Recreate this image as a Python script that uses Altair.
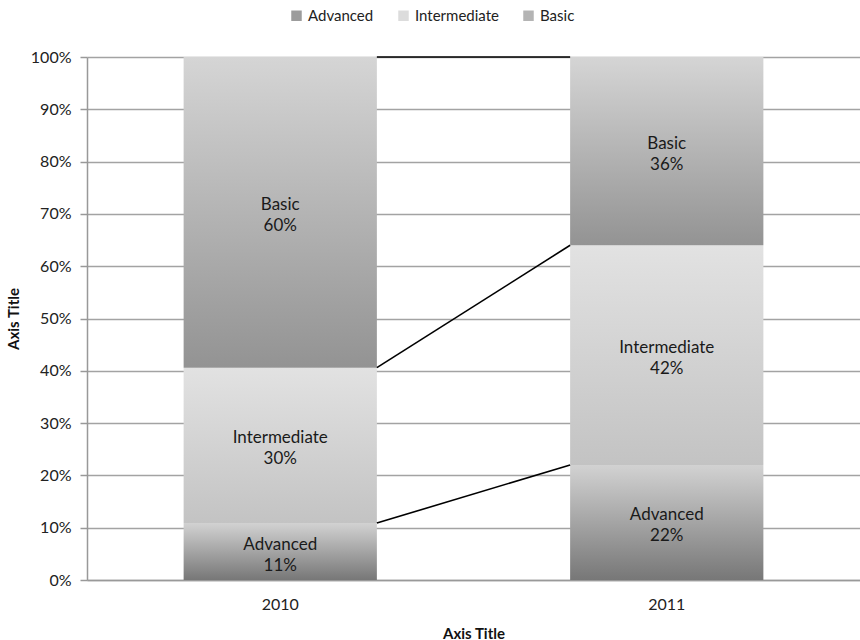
import altair as alt
import pandas as pd

years = ["2010", "2011"]
series = ["Advanced", "Intermediate", "Basic"]
advanced = [11, 22]
intermediate = [30, 42]
basic = [60, 36]

# vertical gradients per segment (top colour, bottom colour)
gradients = {
    "Advanced": ("#d2d2d2", "#777777"),
    "Intermediate": ("#e2e2e2", "#c3c3c3"),
    "Basic": ("#d5d5d5", "#939393"),
}
legend_colors = ["#9c9c9c", "#dcdcdc", "#b4b4b4"]

values = {"Advanced": advanced, "Intermediate": intermediate, "Basic": basic}

# 100% stacked segments
rows = []
for i, yr in enumerate(years):
    total = sum(values[s][i] for s in series)
    cum = 0.0
    for k, s in enumerate(series):
        v = values[s][i]
        rows.append({
            "year": yr, "series": s, "order": k, "value": v,
            "start": cum / total, "end": (cum + v) / total,
            "label": f"{s}\n{v}%",
        })
        cum += v
bars = pd.DataFrame(rows)

# series lines joining the top of each segment across the two years
links = []
for s in series:
    a = bars[(bars.year == years[0]) & (bars.series == s)].iloc[0]
    b = bars[(bars.year == years[1]) & (bars.series == s)].iloc[0]
    links.append({"from": years[0], "to": years[1], "y_from": a.end, "y_to": b.end})
links = pd.DataFrame(links)

FONT = "Lato"

x_scale = alt.Scale(domain=years, paddingInner=0.5, paddingOuter=0.25)
y_scale = alt.Scale(domain=[0, 1])

x_axis = alt.Axis(
    title="Axis Title", labelAngle=0, ticks=False, labelPadding=16,
    titlePadding=14, labelFontSize=16, titleFontSize=15,
    titleFontWeight="bold", domainColor="#999999", domainWidth=1.5,
    labelColor="#222222", titleColor="#111111", grid=False,
)
y_axis = alt.Axis(
    title="Axis Title", format=".0%", values=[i / 10 for i in range(11)],
    tickSize=7, tickColor="#999999", tickWidth=1.5, domainColor="#999999",
    domainWidth=1.5, gridColor="#a3a3a3", gridWidth=1.4, labelFontSize=16,
    labelPadding=9, labelColor="#222222", titleFontSize=15, titleFontWeight="bold",
    titlePadding=9, titleColor="#111111",
)


def xe(field, **kw):
    return alt.X(field, scale=x_scale, sort=years, axis=x_axis, **kw)


def ye(field):
    return alt.Y(field, scale=y_scale, axis=y_axis)


base = alt.Chart(bars)

layers = []
for s in series:
    top, bottom = gradients[s]
    grad = alt.LinearGradient(
        gradient="linear", x1=0, y1=0, x2=0, y2=1,
        stops=[alt.GradientStop(color=top, offset=0),
               alt.GradientStop(color=bottom, offset=1)],
    )
    layer = base.transform_filter(alt.datum.series == s).mark_bar(color=grad).encode(
        x=xe("year:N"),
        y=ye("start:Q"),
        y2="end:Q",
    )
    layers.append(layer)

rules = alt.Chart(links).mark_rule(color="#000000", strokeWidth=1.6).encode(
    x=xe("from:N", bandPosition=1),
    x2=alt.X2("to:N", bandPosition=0),
    y=ye("y_from:Q"),
    y2="y_to:Q",
)

labels = base.transform_calculate(mid="(datum.start + datum.end) / 2").mark_text(
    font=FONT, fontSize=17, color="#1a1a1a", lineBreak="\n", lineHeight=21,
    baseline="middle", align="center", dy=-7,
).encode(
    x=xe("year:N"),
    y=ye("mid:Q"),
    text="label:N",
)

legend_layer = base.mark_square(opacity=0).encode(
    x=xe("year:N"),
    y=ye("end:Q"),
    color=alt.Color(
        "series:N",
        scale=alt.Scale(domain=series, range=legend_colors),
        legend=alt.Legend(
            title=None, orient="none", direction="horizontal", legendX=202, legendY=-49,
            symbolType="square", symbolSize=110, symbolOpacity=1, symbolStrokeWidth=0,
            labelFontSize=15, labelFont=FONT, labelColor="#222222", columnPadding=22,
            labelOffset=4,
        ),
    ),
)

chart = alt.layer(*layers, rules, labels, legend_layer).properties(
    width=773, height=523,
    padding={"left": 87, "top": 57, "right": 0, "bottom": 60},
    autosize=alt.AutoSizeParams(type="none"),
).configure(font=FONT).configure_view(stroke=None).configure_axis(
    labelFont=FONT, titleFont=FONT
)

chart.save("out.html", embed_options={"renderer": "svg", "actions": False})
